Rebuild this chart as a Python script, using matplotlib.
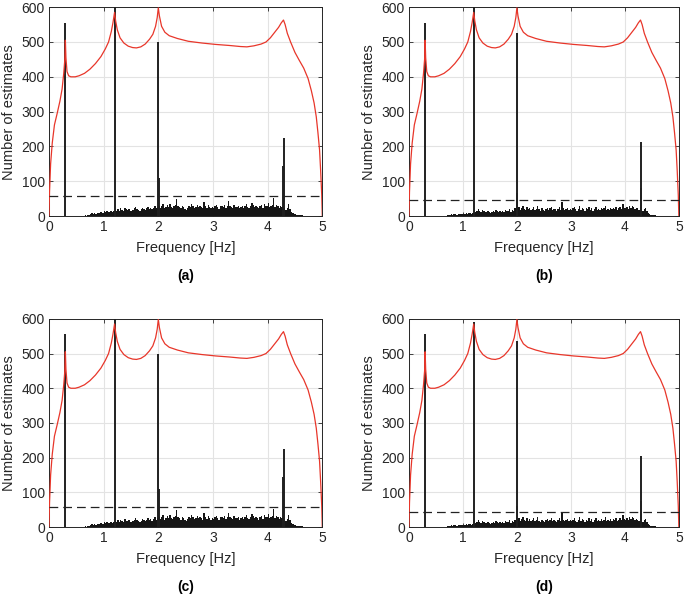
import numpy as np
import matplotlib
matplotlib.use("Agg")
import matplotlib.pyplot as plt

plt.rcParams['font.family'] = ['Liberation Sans', 'DejaVu Sans']

# red curve: number of estimates vs frequency (same shape in every panel)
curve_f = [0.0, 0.01, 0.03, 0.06, 0.10, 0.15, 0.20, 0.24, 0.27, 0.29, 0.30, 0.31, 0.33,
           0.36, 0.40, 0.48, 0.55, 0.65, 0.75, 0.85, 0.95, 1.03, 1.09, 1.14, 1.17, 1.20,
           1.22, 1.25, 1.30, 1.37, 1.45, 1.53, 1.60, 1.68, 1.76, 1.84, 1.90, 1.95, 1.98,
           2.00, 2.02, 2.06, 2.12, 2.20, 2.35, 2.55, 2.80, 3.05, 3.30, 3.50, 3.62, 3.75,
           3.88, 3.97, 4.05, 4.13, 4.20, 4.25, 4.29, 4.32, 4.36, 4.42, 4.50, 4.58, 4.66,
           4.74, 4.80, 4.85, 4.89, 4.92, 4.95, 4.97, 4.99, 5.0]
curve_n = [0, 70, 150, 210, 262, 295, 330, 365, 410, 450, 505, 455, 415,
           403, 400, 400, 403, 410, 422, 438, 458, 480, 500, 530, 555, 585,
           560, 535, 512, 497, 488, 484, 483, 486, 494, 508, 522, 545, 570,
           598, 575, 545, 528, 518, 510, 502, 497, 493, 490, 487, 486, 489,
           494, 500, 512, 528, 542, 555, 563, 550, 525, 500, 470, 447, 425,
           395, 360, 325, 285, 240, 190, 130, 60, 0]

# histogram of frequency estimates, bins of 0.025 Hz from 0.5 Hz
bin_start = 0.5
bin_width = 0.025
hist_a = [0, 1, 0, 1, 1, 1, 2, 1, 2, 3,
          6, 8, 5, 9, 7, 10, 8, 11, 12, 10,
          14, 12, 15, 13, 11, 14, 12, 16, 18, 15,
          20, 16, 22, 18, 15, 24, 19, 17, 21, 16,
          14, 18, 22, 26, 20, 17, 15, 19, 24, 21,
          18, 22, 27, 20, 24, 19, 23, 28, 22, 26,
          30, 24, 28, 35, 22, 26, 31, 25, 36, 27,
          24, 29, 33, 48, 30, 26, 22, 28, 25, 20,
          18, 24, 30, 27, 35, 29, 23, 27, 32, 26,
          30, 25, 22, 40, 28, 24, 31, 27, 22, 26,
          24, 29, 33, 25, 21, 28, 30, 26, 31, 24,
          28, 42, 30, 26, 24, 32, 27, 25, 29, 22,
          26, 30, 24, 28, 34, 27, 23, 29, 38, 31,
          25, 30, 27, 22, 29, 33, 24, 36, 30, 28,
          38, 26, 30, 32, 52, 26, 33, 28, 24, 30,
          27, 35, 22, 18, 24, 36, 20, 12, 8, 6,
          5, 4, 3, 4, 2, 2, 1, 1, 0, 0]
hist_b = [0, 0, 1, 0, 1, 1, 1, 1, 2, 2,
          3, 5, 4, 6, 5, 4, 6, 7, 5, 6,
          7, 6, 8, 7, 9, 8, 7, 10, 9, 12,
          16, 20, 15, 12, 18, 14, 11, 13, 16, 12,
          10, 13, 15, 12, 17, 14, 11, 16, 13, 15,
          12, 18, 15, 14, 20, 13, 17, 16, 22, 18,
          20, 26, 18, 24, 30, 21, 17, 26, 19, 23,
          18, 21, 25, 17, 20, 28, 19, 16, 22, 18,
          15, 20, 24, 18, 22, 27, 17, 21, 19, 16,
          20, 25, 18, 40, 22, 17, 20, 24, 18, 21,
          17, 22, 26, 19, 16, 21, 28, 18, 24, 20,
          16, 22, 19, 27, 18, 23, 15, 20, 25, 18,
          21, 17, 24, 19, 22, 28, 18, 21, 17, 23,
          19, 24, 20, 26, 18, 22, 27, 21, 36, 24,
          22, 26, 20, 28, 23, 30, 25, 21, 24, 22,
          18, 22, 26, 16, 20, 24, 14, 10, 6, 4,
          3, 2, 2, 1, 1, 1, 0, 0, 0, 0]

# sharp peaks (single bins) at the identified frequencies
spike_f = [0.30, 1.20, 2.00, 2.008, 4.29, 4.30]
spikes_a = [555, 620, 500, 110, 145, 225]
spikes_b = [555, 620, 525, 65, 80, 212]
spikes_d = [555, 592, 535, 60, 75, 205]

thresh_a = 57
thresh_b = 45

panels = [
    ("(a)", hist_a, spikes_a, thresh_a),
    ("(b)", hist_b, spikes_b, thresh_b),
    ("(c)", hist_a, spikes_a, thresh_a),
    ("(d)", hist_b, spikes_d, thresh_b),
]

positions = [
    [0.0715, 0.638, 0.399, 0.350],
    [0.597, 0.638, 0.394, 0.350],
    [0.0715, 0.117, 0.399, 0.349],
    [0.597, 0.117, 0.394, 0.349],
]

fig = plt.figure(figsize=(6.85, 5.97), dpi=100)

for (tag, hist, spikes, thresh), pos in zip(panels, positions):
    ax = fig.add_axes(pos)
    centers = bin_start + bin_width * (np.arange(len(hist)) + 0.5)
    ax.bar(centers, hist, width=bin_width, color='#161616', linewidth=0, zorder=2)
    ax.vlines(spike_f, 0, spikes, color='#202020', linewidth=1.4, zorder=3)
    ax.plot(curve_f, curve_n, color='#e8362a', linewidth=0.9, zorder=4)
    ax.axhline(thresh, color='#222222', linewidth=0.9, dashes=(7, 4), zorder=5)

    ax.set_xlim(0, 5)
    ax.set_ylim(0, 600)
    ax.set_xticks([0, 1, 2, 3, 4, 5])
    ax.set_yticks([0, 100, 200, 300, 400, 500, 600])
    ax.grid(True, color='#e3e3e3', linewidth=0.8, zorder=0)
    ax.set_axisbelow(True)
    ax.tick_params(direction='in', length=3, width=0.6, top=True, right=True,
                   labelsize=10, colors='#262626', pad=3)
    for s in ax.spines.values():
        s.set_color('#262626')
        s.set_linewidth(0.7)
    ax.set_xlabel("Frequency [Hz]", fontsize=10.5, color='#262626', labelpad=5)
    ax.set_ylabel("Number of estimates", fontsize=10.5, color='#262626', labelpad=4)
    ax.text(0.5, -0.255, tag, transform=ax.transAxes, ha='center', va='top',
            fontsize=10, fontweight='bold')

fig.savefig("out.png", dpi=100)
